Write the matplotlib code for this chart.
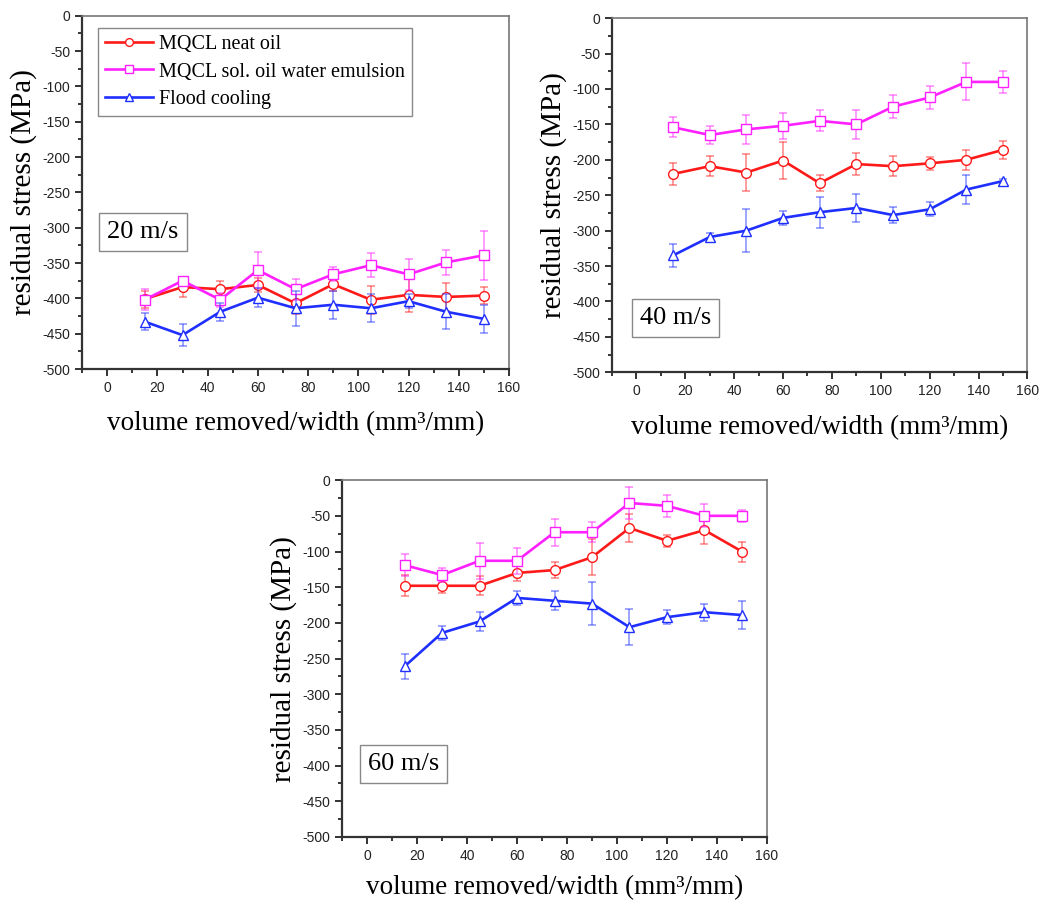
import numpy as np
import matplotlib.pyplot as plt
from matplotlib.ticker import MultipleLocator

plt.rcParams['axes.unicode_minus'] = False

## volume removed / width (mm^3/mm)
x = [15, 30, 45, 60, 75, 90, 105, 120, 135, 150]

## 20 m/s
neat_20 = [-401, -384, -387, -381, -407, -380, -402, -395, -398, -396]
neat_20_err = [12, 14, 12, 10, 15, 10, 20, 25, 20, 12]
emul_20 = [-402, -375, -402, -360, -387, -366, -353, -366, -349, -339]
emul_20_err = [15, 5, 10, 25, 15, 10, 17, 22, 18, 35]
flood_20 = [-433, -452, -419, -399, -414, -409, -414, -404, -419, -429]
flood_20_err = [12, 16, 13, 13, 25, 20, 20, 10, 25, 20]

## 40 m/s
neat_40 = [-220, -209, -218, -201, -233, -206, -209, -205, -200, -186]
neat_40_err = [15, 14, 26, 26, 11, 16, 14, 9, 14, 13]
emul_40 = [-154, -165, -157, -152, -145, -150, -125, -112, -90, -90]
emul_40_err = [14, 13, 20, 18, 15, 20, 16, 16, 26, 15]
flood_40 = [-335, -309, -300, -282, -274, -268, -278, -270, -242, -230]
flood_40_err = [16, 5, 30, 10, 22, 20, 11, 10, 21, 3]

## 60 m/s
neat_60 = [-148, -148, -148, -130, -126, -108, -67, -85, -70, -100]
neat_60_err = [15, 10, 13, 11, 11, 25, 20, 8, 20, 14]
emul_60 = [-119, -133, -113, -113, -73, -73, -32, -36, -50, -50]
emul_60_err = [15, 10, 25, 18, 19, 14, 22, 15, 16, 8]
flood_60 = [-261, -214, -198, -165, -169, -173, -206, -192, -185, -189]
flood_60_err = [17, 10, 13, 10, 13, 30, 25, 10, 12, 19]

labels = ["MQCL neat oil", "MQCL sol. oil water emulsion", "Flood cooling"]
colors = ["#ff1a1a", "#ff20ff", "#1f2fff"]
markers = ["o", "s", "^"]

panels = [
    ("20 m/s", [0.0776, 0.5936, 0.404, 0.389], [neat_20, emul_20, flood_20],
     [neat_20_err, emul_20_err, flood_20_err], (103, 212), 12),
    ("40 m/s", [0.579, 0.590, 0.393, 0.390], [neat_40, emul_40, flood_40],
     [neat_40_err, emul_40_err, flood_40_err], (636, 298), 12),
    ("60 m/s", [0.3236, 0.0782, 0.402, 0.393], [neat_60, emul_60, flood_60],
     [neat_60_err, emul_60_err, flood_60_err], (364, 744), 9),
]

serif = "Liberation Serif"
sans = "Liberation Sans"

fig = plt.figure(figsize=(10.57, 9.08), dpi=100)

for k, (speed, pos, ys, errs, boxpos, xpad) in enumerate(panels):
    ax = fig.add_axes(pos)
    for y, e, c, m, lab in zip(ys, errs, colors, markers, labels):
        ax.errorbar(x, y, yerr=e, fmt="none", ecolor=c, alpha=0.55,
                    elinewidth=1.1, capsize=3, capthick=1.1)
        ax.plot(x, y, color=c, marker=m, markersize=7, markerfacecolor="white",
                markeredgecolor=c, markeredgewidth=1.0, linewidth=1.9, label=lab)
    ax.set_xlim(-10, 160)
    ax.set_ylim(-500, 0)
    ax.xaxis.set_major_locator(MultipleLocator(20))
    ax.xaxis.set_minor_locator(MultipleLocator(10))
    ax.yaxis.set_major_locator(MultipleLocator(50))
    ax.yaxis.set_minor_locator(MultipleLocator(25))
    ax.set_xticks(range(0, 161, 20))
    ax.tick_params(which="major", length=5, width=1.3, direction="out",
                   labelsize=10, colors="#222222")
    ax.tick_params(which="minor", length=3, width=1.1, direction="out")
    for lbl in ax.get_xticklabels() + ax.get_yticklabels():
        lbl.set_fontfamily(sans)
    for s in ["left", "bottom"]:
        ax.spines[s].set_linewidth(1.6)
        ax.spines[s].set_color("#333333")
    for s in ["top", "right"]:
        ax.spines[s].set_linewidth(1.2)
        ax.spines[s].set_color("#777777")
    ax.set_xlabel("volume removed/width (mm³/mm)", fontsize=19.5,
                  fontfamily=serif, labelpad=xpad)
    ax.set_ylabel("residual stress (MPa)", fontsize=21,
                  fontfamily=serif, labelpad=4)
    bx = (boxpos[0] - pos[0] * 1057) / (pos[2] * 1057)
    by = 1 - (boxpos[1] + 20 - (1 - pos[1] - pos[3]) * 908) / (pos[3] * 908)
    ax.text(bx + 0.01, by, speed, transform=ax.transAxes, fontsize=19,
            fontfamily=serif, va="center", ha="left",
            bbox=dict(boxstyle="square,pad=0.3", facecolor="white",
                      edgecolor="#888888", linewidth=1.0))
    if k == 0:
        leg = ax.legend(loc="upper left", bbox_to_anchor=(0.037, 0.966),
                        borderaxespad=0, markerscale=0.8,
                        prop={"family": serif, "size": 14.5}, handlelength=2.4,
                        handletextpad=0.3, borderpad=0.35, labelspacing=0.42,
                        fancybox=False, framealpha=1)
        leg.get_frame().set_edgecolor("#888888")
        leg.get_frame().set_linewidth(1.0)

fig.savefig("out.png", dpi=100)
